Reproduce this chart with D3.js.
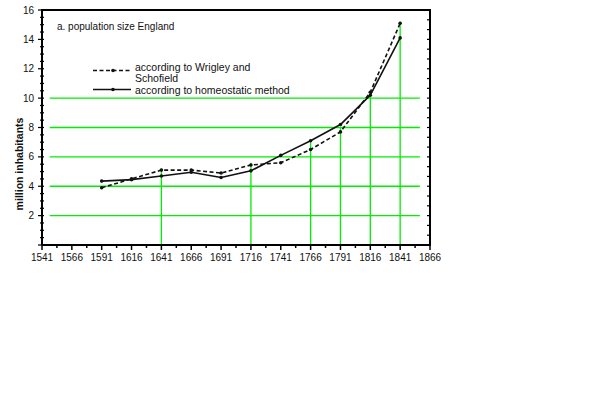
<!DOCTYPE html>
<html>
<head>
<meta charset="utf-8" />
<script src="https://cdn.jsdelivr.net/npm/d3@7"></script>
<style>
    body { margin: 0; background: #fff; }
    text { font-family: "Liberation Sans", Arial, sans-serif; fill: #111; }
</style>
</head>
<body>
<script>
    var years = [1591, 1616, 1641, 1666, 1691, 1716, 1741, 1766, 1791, 1816, 1841];
    var wrigleySchofield = [3.9, 4.5, 5.1, 5.1, 4.9, 5.45, 5.6, 6.5, 7.7, 10.4, 15.1];
    var homeostatic = [4.35, 4.45, 4.7, 4.95, 4.6, 5.05, 6.1, 7.1, 8.2, 10.2, 14.1];

    var xTickLabels = [1541, 1566, 1591, 1616, 1641, 1666, 1691, 1716, 1741, 1766, 1791, 1816, 1841, 1866];
    var yTickLabels = [2, 4, 6, 8, 10, 12, 14, 16];

    // green guide lines drawn over the plot
    var guideLevels = [2, 4, 6, 8, 10];
    var dropYears = [1641, 1716, 1766, 1791, 1816, 1841];
    var dropTops = [5.2, 5.6, 7.0, 8.0, 10.2, 15.2];

    var width = 600,
        height = 400;

    var x = d3.scaleLinear().domain([1541, 1866]).range([42, 430]);
    var y = d3.scaleLinear().domain([0, 16]).range([245, 10]);

    var svg = d3.select("body").append("svg")
        .attr("width", width)
        .attr("height", height);

    // green horizontal guides
    svg.selectAll("line.hguide")
        .data(guideLevels)
        .enter().append("line")
        .attr("class", "hguide")
        .attr("x1", x(1547.5))
        .attr("x2", x(1857.5))
        .attr("y1", function (d) { return y(d); })
        .attr("y2", function (d) { return y(d); })
        .attr("stroke", "#00ee00")
        .attr("stroke-width", 1.3);

    // green vertical drop lines
    svg.selectAll("line.vguide")
        .data(dropYears)
        .enter().append("line")
        .attr("class", "vguide")
        .attr("x1", function (d) { return x(d); })
        .attr("x2", function (d) { return x(d); })
        .attr("y1", y(0))
        .attr("y2", function (d, i) { return y(dropTops[i]); })
        .attr("stroke", "#00ee00")
        .attr("stroke-width", 1.3);

    // frame
    svg.append("path")
        .attr("d", "M" + x(1541) + "," + y(0) + "V" + y(16) + "H" + x(1866) + "V" + y(0) + "H" + x(1541))
        .attr("fill", "none")
        .attr("stroke", "#000")
        .attr("stroke-width", 2);

    // x axis ticks (major every 25 years, minor in between)
    var xTicks = d3.range(1541, 1866.1, 12.5);
    svg.selectAll("line.xtick")
        .data(xTicks)
        .enter().append("line")
        .attr("x1", function (d) { return x(d); })
        .attr("x2", function (d) { return x(d); })
        .attr("y1", y(0))
        .attr("y2", function (d) { return y(0) + ((d - 1541) % 25 === 0 ? 5 : 3); })
        .attr("stroke", "#000")
        .attr("stroke-width", 1.5);

    svg.selectAll("text.xlab")
        .data(xTickLabels)
        .enter().append("text")
        .attr("x", function (d) { return x(d); })
        .attr("y", 261)
        .attr("text-anchor", "middle")
        .attr("font-size", 10)
        .text(function (d) { return d; });

    // y axis ticks
    var yMinor = d3.range(0, 16.01, 0.5);
    svg.selectAll("line.ytick")
        .data(yMinor)
        .enter().append("line")
        .attr("x1", function (d) { return x(1541) - (d % 2 === 0 ? 4 : 2); })
        .attr("x2", x(1541) + 2)
        .attr("y1", function (d) { return y(d); })
        .attr("y2", function (d) { return y(d); })
        .attr("stroke", "#000")
        .attr("stroke-width", 1.2);

    svg.selectAll("text.ylab")
        .data(yTickLabels)
        .enter().append("text")
        .attr("x", 34)
        .attr("y", function (d) { return y(d) + 3.5; })
        .attr("text-anchor", "end")
        .attr("font-size", 10)
        .text(function (d) { return d; });

    // right side inner ticks
    svg.selectAll("line.rtick")
        .data(d3.range(0, 16.01, 2 / 3))
        .enter().append("line")
        .attr("x1", x(1866) - 3)
        .attr("x2", x(1866))
        .attr("y1", function (d) { return y(d); })
        .attr("y2", function (d) { return y(d); })
        .attr("stroke", "#000")
        .attr("stroke-width", 1.2);

    svg.append("text")
        .attr("transform", "translate(23,164) rotate(-90)")
        .attr("text-anchor", "middle")
        .attr("font-size", 10.5)
        .attr("font-weight", "bold")
        .text("million inhabitants");

    svg.append("text")
        .attr("x", 57)
        .attr("y", 30)
        .attr("font-size", 10)
        .text("a. population size England");

    // series
    var line = d3.line()
        .x(function (d) { return x(d[0]); })
        .y(function (d) { return y(d[1]); });

    var series = [
        { name: "ws", values: wrigleySchofield, dash: "4,2.5" },
        { name: "homeo", values: homeostatic, dash: null }
    ];

    series.forEach(function (s) {
        var pts = years.map(function (yr, i) { return [yr, s.values[i]]; });
        svg.append("path")
            .datum(pts)
            .attr("d", line)
            .attr("fill", "none")
            .attr("stroke", "#111")
            .attr("stroke-width", 1.6)
            .attr("stroke-linejoin", "round")
            .attr("stroke-dasharray", s.dash);
        svg.selectAll("circle." + s.name)
            .data(pts)
            .enter().append("circle")
            .attr("class", s.name)
            .attr("cx", function (d) { return x(d[0]); })
            .attr("cy", function (d) { return y(d[1]); })
            .attr("r", 1.8)
            .attr("fill", "#111");
    });

    // legend
    var legend = svg.append("g");
    legend.append("line")
        .attr("x1", 93).attr("x2", 131).attr("y1", 70.5).attr("y2", 70.5)
        .attr("stroke", "#111").attr("stroke-width", 1.5).attr("stroke-dasharray", "4,2.5");
    legend.append("circle").attr("cx", 113).attr("cy", 70.5).attr("r", 1.8).attr("fill", "#111");
    legend.append("text").attr("x", 135).attr("y", 71).attr("font-size", 10.5)
        .text("according to Wrigley and");
    legend.append("text").attr("x", 135).attr("y", 82).attr("font-size", 10.5)
        .text("Schofield");
    legend.append("line")
        .attr("x1", 93).attr("x2", 131).attr("y1", 89.5).attr("y2", 89.5)
        .attr("stroke", "#111").attr("stroke-width", 1.5);
    legend.append("circle").attr("cx", 113).attr("cy", 89.5).attr("r", 1.8).attr("fill", "#111");
    legend.append("text").attr("x", 135).attr("y", 94).attr("font-size", 10.5)
        .text("according to homeostatic method");
</script>
</body>
</html>
